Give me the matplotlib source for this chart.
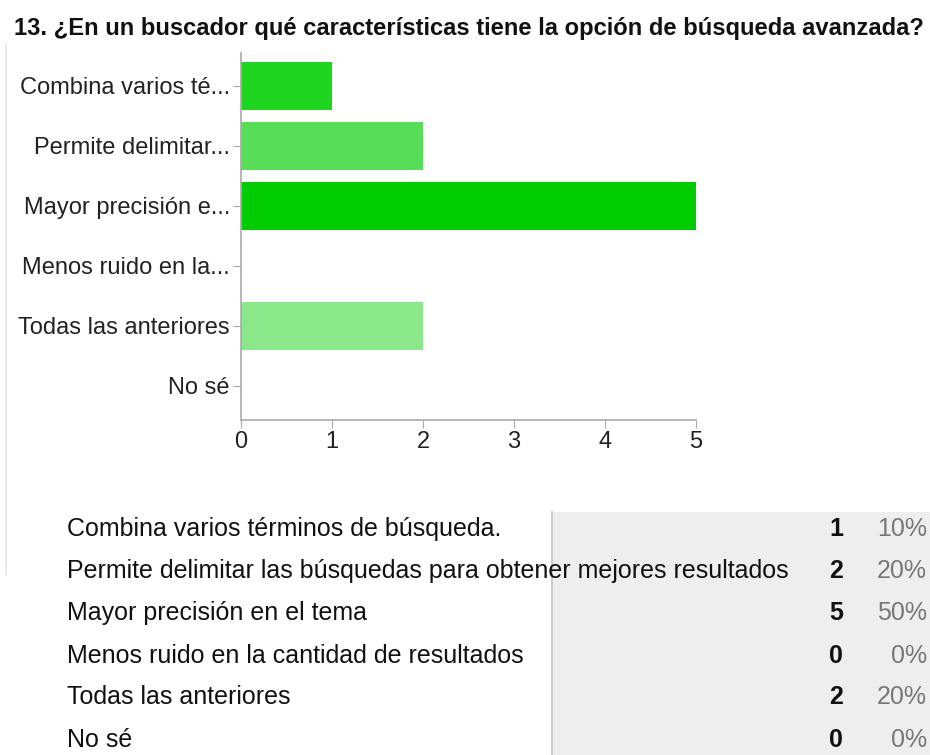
import matplotlib
matplotlib.use("Agg")
import matplotlib.pyplot as plt
from matplotlib.patches import Rectangle

plt.rcParams['font.family'] = ['Liberation Sans', 'DejaVu Sans']

title = "13. ¿En un buscador qué características tiene la opción de búsqueda avanzada?"
short_labels = ["Combina varios té...", "Permite delimitar...", "Mayor precisión e...",
                "Menos ruido en la...", "Todas las anteriores", "No sé"]
full_labels = ["Combina varios términos de búsqueda.",
               "Permite delimitar las búsquedas para obtener mejores resultados",
               "Mayor precisión en el tema",
               "Menos ruido en la cantidad de resultados",
               "Todas las anteriores",
               "No sé"]
counts = [1, 2, 5, 0, 2, 0]
percents = ["10%", "20%", "50%", "0%", "20%", "0%"]
bar_colors = ["#1fd51f", "#57dd57", "#00cc00", "#2bd82b", "#8ae88a", "#00cc00"]
x_ticks = [0, 1, 2, 3, 4, 5]

W, H = 930, 755
fig = plt.figure(figsize=(W / 100, H / 100), dpi=100)

# overlay axes in pixel coordinates
ov = fig.add_axes([0, 0, 1, 1])
ov.set_xlim(0, W)
ov.set_ylim(H, 0)
ov.axis('off')

# chart axes
left, right, top, bottom = 241, 696, 53, 420
ax = fig.add_axes([left / W, 1 - bottom / H, (right - left) / W, (bottom - top) / H])
ypos = list(range(len(counts)))
ax.barh(ypos, counts, height=0.79, color=bar_colors, edgecolor='none', zorder=2)
ax.set_ylim(5.567, -0.55)
ax.set_xlim(0, 5)
ax.set_yticks(ypos)
ax.set_yticklabels(short_labels, fontsize=17, color='#222222')
ax.set_xticks(x_ticks)
ax.set_xticklabels([str(t) for t in x_ticks], fontsize=17, color='#222222')
for s in ['top', 'right']:
    ax.spines[s].set_visible(False)
for s in ['left', 'bottom']:
    ax.spines[s].set_color('#aaaaaa')
    ax.spines[s].set_linewidth(1.2)
ax.tick_params(axis='y', length=6, color='#aaaaaa', pad=2)
ax.tick_params(axis='x', length=6, color='#aaaaaa', pad=2)
ax.set_facecolor('none')

# title
ov.text(14, 28, title, fontsize=17.1, fontweight='bold', ha='left', va='center', color='#111111')

# left thin border
ov.plot([6, 6], [45, 575], color='#e4e4e4', lw=1.2)

# table background
ov.add_patch(Rectangle((552, 512), W - 552, H - 512, facecolor='#eeeeee', edgecolor='none', zorder=0))
ov.plot([552, 552], [512, H], color='#cccccc', lw=1.5, zorder=1)

row_y = [529, 571, 613, 656, 697, 740]
for y, lab, c, p in zip(row_y, full_labels, counts, percents):
    ov.text(67, y, lab, fontsize=18, ha='left', va='center', color='#111111', zorder=3)
    ov.text(843, y, str(c), fontsize=18, fontweight='bold', ha='right', va='center', color='#111111', zorder=3)
    ov.text(927, y, p, fontsize=18, ha='right', va='center', color='#777777', zorder=3)

fig.savefig("out.png", dpi=100)
